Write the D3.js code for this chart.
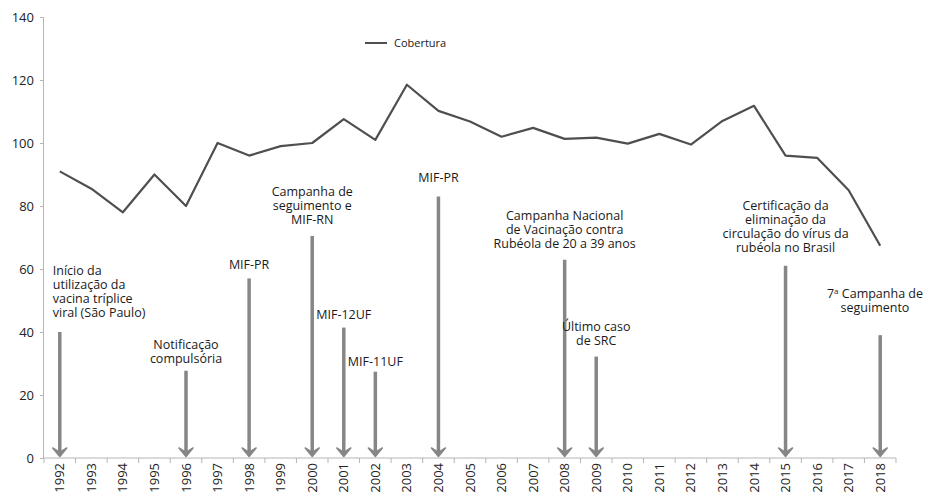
<!DOCTYPE html>
<html><head><meta charset="utf-8">
<script src="https://cdn.jsdelivr.net/npm/d3@7"></script>
<style>
body{margin:0;background:#fff;}
svg{display:block;font-family:"Open Sans",sans-serif;}
</style></head>
<body><svg id="c" width="925" height="495"></svg>
<script>
const years = ["1992","1993","1994","1995","1996","1997","1998","1999","2000","2001","2002","2003","2004","2005","2006","2007","2008","2009","2010","2011","2012","2013","2014","2015","2016","2017","2018"];
const cobertura = [91,85.5,78,90,80,100,96,99,100,107.6,101,118.5,110.2,106.8,102,104.8,101.3,101.7,99.8,102.9,99.5,107,111.8,96,95.3,85,67.4];
const yTicks = [0,20,40,60,80,100,120,140];
const seriesName = "Cobertura";

const eventYears   = ["1992","1996","1998","2000","2001","2002","2004","2008","2009","2015","2018"];
const eventHeights = [40,27.7,57,70.5,41.4,27.4,83,62.9,32.2,61,39];
const eventLabelAt = [59.5,35.9,61.3,84.5,45.4,30.5,88.9,77,41.6,80,52.2];
const eventLabels  = [
  ["Início da","utilização da","vacina tríplice","viral (São Paulo)"],
  ["Notificação","compulsória"],
  ["MIF-PR"],
  ["Campanha de","seguimento e","MIF-RN"],
  ["MIF-12UF"],
  ["MIF-11UF"],
  ["MIF-PR"],
  ["Campanha Nacional","de Vacinação contra","Rubéola de 20 a 39 anos"],
  ["Último caso","de SRC"],
  ["Certificação da","eliminação da","circulação do vírus da","rubéola no Brasil"],
  ["7ª Campanha de","seguimento"]
];

const svg = d3.select("#c");
const W = 925;
const x = d3.scaleBand().domain(years).range([44, 896]).padding(0);
const y = d3.scaleLinear().domain([0,140]).range([458, 17]);
const cx = d => x(d) + x.bandwidth()/2;

// Y axis
const ya = svg.append("g").attr("transform","translate(43,0)")
  .call(d3.axisLeft(y).tickValues(yTicks).tickSize(3).tickPadding(6));
ya.select(".domain").attr("stroke","#b5b5b5");
ya.selectAll(".tick line").attr("stroke","#b5b5b5");
ya.selectAll("text").attr("font-size",13).attr("fill","#222").attr("font-family","Open Sans");

// X axis
const xa = svg.append("g").attr("transform","translate(0,458)")
  .call(d3.axisBottom(x).tickSize(0).tickSizeOuter(0));
xa.select(".domain").attr("stroke","#b5b5b5").attr("d","M43,0H896");
xa.selectAll(".tick text").attr("font-size",13).attr("fill","#222").attr("font-family","Open Sans")
  .attr("transform","rotate(-90)").attr("text-anchor","end").attr("x",-5).attr("y",0).attr("dy","0.35em");
// boundary ticks
svg.append("g").selectAll("line").data(years.concat(["end"])).join("line")
  .attr("x1",(d,i)=> 44 + i*x.bandwidth()).attr("x2",(d,i)=> 44 + i*x.bandwidth())
  .attr("y1",458).attr("y2",463).attr("stroke","#b5b5b5");

// Arrows
const ag = svg.append("g");
eventYears.forEach((yr,i)=>{
  const xc = cx(yr);
  ag.append("line").attr("x1",xc).attr("x2",xc)
    .attr("y1",y(eventHeights[i])).attr("y2",y(0)-6)
    .attr("stroke","#868686").attr("stroke-width",3.5);
  ag.append("path")
    .attr("d",`M${xc-7},${y(0)-10}L${xc},${y(0)-5.5}L${xc+7},${y(0)-10}L${xc},${y(0)-1.5}Z`)
    .attr("fill","#868686").attr("stroke","#868686").attr("stroke-width",1.5).attr("stroke-linejoin","round");
  const anchor = i===0 ? "start" : "middle";
  const tx = i===0 ? cx(yr) - 7 : xc;
  const t = ag.append("text").attr("font-size",12.5).attr("fill","#1a1a1a")
    .attr("text-anchor",anchor).attr("font-family","Open Sans");
  eventLabels[i].forEach((ln,j)=>{
    const ts = t.append("tspan").attr("x",tx).attr("y",y(eventLabelAt[i]) + j*14).attr("dy","0.35em");
    const m = ln.match(/^(\d+)ª(.*)$/);
    if (m) {
      ts.append("tspan").text(m[1]);
      ts.append("tspan").attr("font-size",8).attr("dy","-0.45em").text("a");
      ts.append("tspan").attr("dy","0.3em").text(m[2]);
    } else ts.text(ln);
  });
  // keep inside the picture
  const bb = t.node().getBBox();
  if (bb.x + bb.width > W - 2) {
    const sh = bb.x + bb.width - (W - 2);
    t.selectAll(":scope > tspan").attr("x", tx - sh);
  }
});

// Line
svg.append("path").datum(cobertura)
  .attr("fill","none").attr("stroke","#4f4f4f").attr("stroke-width",2.2).attr("stroke-linejoin","round")
  .attr("d", d3.line().x((d,i)=>cx(years[i])).y(d=>y(d)));

// Legend
const lg = svg.append("g");
lg.append("line").attr("x1",365).attr("x2",387).attr("y1",43).attr("y2",43).attr("stroke","#4f4f4f").attr("stroke-width",2);
lg.append("text").attr("x",394).attr("y",43).attr("dy","0.35em").attr("font-size",11).attr("fill","#1a1a1a").text(seriesName);
</script></body></html>
